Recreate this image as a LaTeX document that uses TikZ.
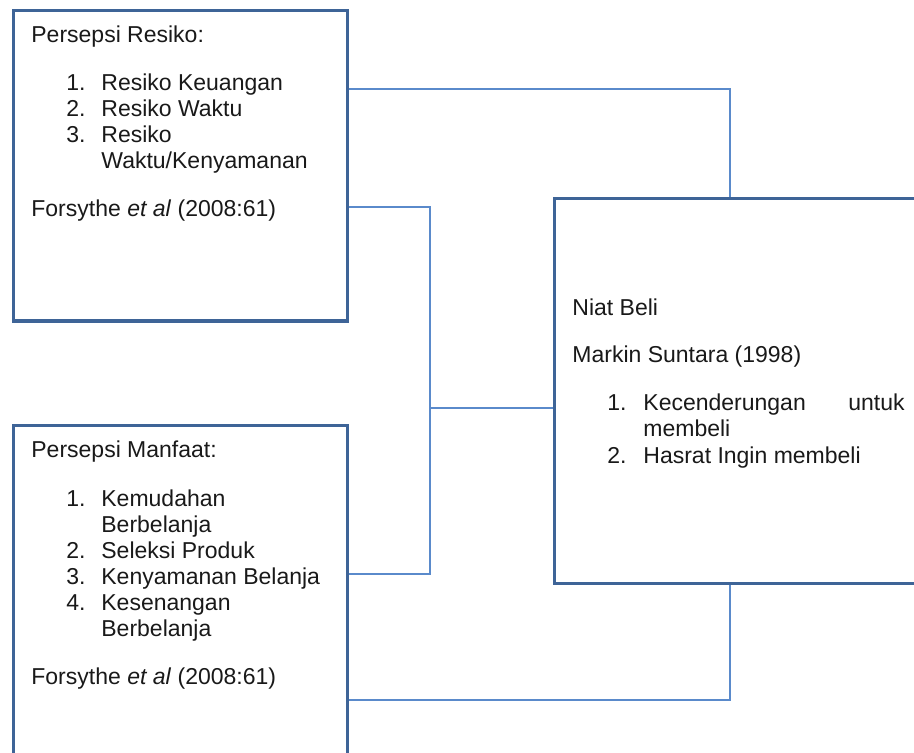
\documentclass[tikz,border=0pt]{standalone}
\usepackage{fontspec}
\setmainfont{Liberation Sans}
\definecolor{boxblue}{HTML}{3E6497}
\definecolor{linkblue}{HTML}{5A8ACB}

\begin{document}
\begin{tikzpicture}[x=0.5pt,y=-0.5pt,
  box/.style={draw=boxblue,line width=1.5pt,inner sep=0pt},
  link/.style={draw=linkblue,line width=0.8pt},
  txt/.style={anchor=base west,inner sep=0pt,text=black!90,
    font=\fontsize{11.5}{13}\selectfont}]
  \useasboundingbox (0,0) rectangle (914,753);
  \clip (0,0) rectangle (914,753);

  \node[box,minimum width=167pt,minimum height=155pt] (risk) at (180,166) {};
  \node[box,minimum width=167pt,minimum height=240pt] (benefit) at (180,665) {};
  \node[box,minimum width=224pt,minimum height=192pt] (intent) at (778,391) {};

  % risk box
  \node[txt] (riskhead) at (31,43) {Persepsi Resiko:};
  \foreach \y/\n/\t [count=\i] in {91/1./Resiko Keuangan,117/2./Resiko Waktu,
      143/3./Resiko,169/{}/{Waktu/Kenyamanan}} {
    \node[txt] (rn\i) at (66,\y) {\n};
    \node[txt] (rt\i) at (101,\y) {\t};
  }
  \node[txt] (riskref) at (31,217) {Forsythe \textit{et al} (2008:61)};

  % benefit box
  \node[txt] (benefithead) at (31,457) {Persepsi Manfaat:};
  \foreach \y/\n/\t [count=\i] in {506/1./Kemudahan,532/{}/Berbelanja,
      558/2./Seleksi Produk,584/3./Kenyamanan Belanja,610/4./Kesenangan,
      636/{}/Berbelanja} {
    \node[txt] (bn\i) at (66,\y) {\n};
    \node[txt] (bt\i) at (101,\y) {\t};
  }
  \node[txt] (benefitref) at (31,684) {Forsythe \textit{et al} (2008:61)};

  % intent box
  \node[txt] (intenthead) at (572,315) {Niat Beli};
  \node[txt] (intentref) at (572,362) {Markin Suntara (1998)};
  \foreach \y/\n/\t [count=\i] in {410/1./Kecenderungan,436/{}/membeli,
      463/2./Hasrat Ingin membeli} {
    \node[txt] (in\i) at (607,\y) {\n};
    \node[txt] (it\i) at (643,\y) {\t};
  }
  \node[txt,anchor=base east] (itx) at (905,410) {untuk};

  % connectors
  \coordinate (hub) at (430,408);
  \draw[link] (risk.east |- 0,89) -| (730,0 |- intent.north);
  \draw[link] (risk.east |- 0,207) -| (hub) |- (benefit.east |- 0,574);
  \draw[link] (hub) -- (intent.west |- hub);
  \draw[link] (730,0 |- intent.south) |- (benefit.east |- 0,700);
\end{tikzpicture}
\end{document}
